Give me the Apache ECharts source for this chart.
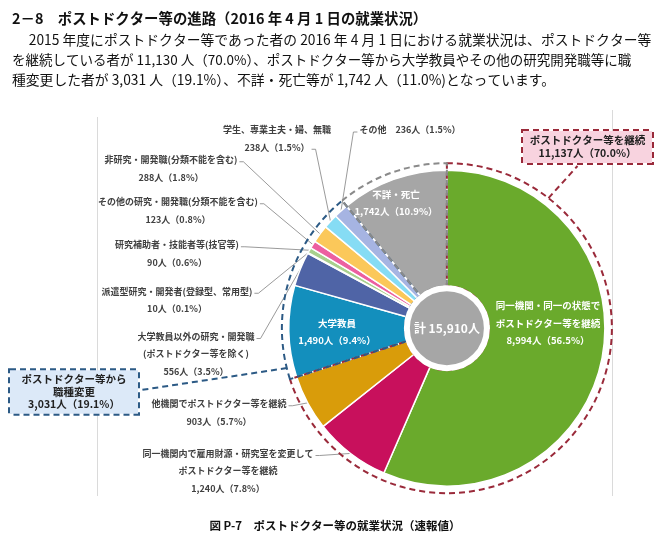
<!DOCTYPE html>
<html><head><meta charset="utf-8">
<script src="https://cdn.jsdelivr.net/npm/echarts@6/dist/echarts.min.js"></script>
<style>html,body{margin:0;padding:0;background:#fff}#c{width:670px;height:546px}</style>
</head><body><div id="c"></div>
<script>
// ---- data ----
const categories = [
  '同一機関・同一の状態で\nポストドクター等を継続',
  '同一機関内で雇用財源・研究室を変更して\nポストドクター等を継続',
  '他機関でポストドクター等を継続',
  '大学教員',
  '大学教員以外の研究・開発職\n(ポストドクター等を除く)',
  '派遣型研究・開発者(登録型、常用型)',
  '研究補助者・技能者等(技官等)',
  'その他の研究・開発職(分類不能を含む)',
  '非研究・開発職(分類不能を含む)',
  '学生、専業主夫・婦、無職',
  'その他',
  '不詳・死亡'
];
const values = [8994, 1240, 903, 1490, 556, 10, 90, 123, 288, 238, 236, 1742];
const groupOf = [0, 0, 0, 1, 1, 1, 1, 1, 1, 1, 1, 2];
const groupNames = ['ポストドクター等を継続', 'ポストドクター等から\n職種変更', '不詳・死亡'];
const titleText = '2－8　ポストドクター等の進路（2016 年 4 月 1 日の就業状況）';
const bodyLines = [
  '　2015 年度にポストドクター等であった者の 2016 年 4 月 1 日における就業状況は、ポストドクター等',
  'を継続している者が 11,130 人（70.0%）、ポストドクター等から大学教員やその他の研究開発職等に職',
  '種変更した者が 3,031 人（19.1%）、不詳・死亡等が 1,742 人（11.0%)となっています。'
];
const captionText = '図 P-7　ポストドクター等の就業状況（速報値）';

// ---- styles / layout ----
const colors = ['#6aaa2c', '#c8105c', '#d99c0a', '#138fbd', '#4f64a6', '#6f8f5a', '#a8d08d',
  '#ec5fa0', '#fbc85a', '#86dcf4', '#a6b4e2', '#a6a6a6'];
const groupBorder = ['#9a2a3a', '#2c5a85', '#8a8a8a'];
const FONT = '"Noto Sans CJK JP", "Noto Sans", sans-serif';
const LFS = 9, LH = 17.5;
const CENTER = ['66.7%', '60.1%'];
const R_IN = 42, R_OUT = 158, R_RING = 165;
const labelCfg = [
  {x: 548, y: 323, inside: true},
  {x: 228, y: 471, line: 0, side: 'r'},
  {x: 219, y: 412.5, line: 0, side: 'r'},
  {x: 337, y: 332, inside: true},
  {x: 196, y: 354, line: 0, side: 'r'},
  {x: 177, y: 300, line: 0, side: 'r'},
  {x: 177, y: 253.5, line: 0, side: 'r'},
  {x: 178, y: 210.5, line: 0, side: 'r'},
  {x: 171, y: 168.5, line: 0, side: 'r'},
  {x: 277, y: 138.5, line: 1, side: 'r'},
  {x: 410, y: 130, line: 0, side: 'l', inline: true},
  {x: 396, y: 203, inside: true}
];
const calloutCfg = [
  {x: 587.5, y: 147, w: 117, lh: 13, angle: 52, fill: '#f8d3df', attach: 'bottom'},
  {x: 74, y: 392, w: 116, lh: 12.5, angle: 194, fill: '#dce9f8', attach: 'right'},
  null
];

// ---- helpers ----
const total = values.reduce((a, b) => a + b, 0);
const groupValues = groupNames.map((_, g) => values.reduce((s, v, i) => s + (groupOf[i] === g ? v : 0), 0));
const fmt = v => v.toLocaleString('en-US');
const pct = v => (v / total * 100).toFixed(1);
const ctx = document.createElement('canvas').getContext('2d');
ctx.font = 'bold ' + LFS + 'px ' + FONT;
const labelText = i => categories[i] + (labelCfg[i].inline ? '　' : '\n') + fmt(values[i]) + '人（' + pct(values[i]) + '%）';

const chart = echarts.init(document.getElementById('c'), null, {renderer: 'canvas'});
const W = chart.getWidth(), H = chart.getHeight();
const cx = parseFloat(CENTER[0]) / 100 * W, cy = parseFloat(CENTER[1]) / 100 * H;

const mainData = values.map((v, i) => {
  const c = labelCfg[i];
  const d = {value: v, name: categories[i], itemStyle: {color: colors[i]}};
  if (c.inside) {
    d.label = {position: 'inside', color: '#fff', fontSize: 9.5};
    d.labelLine = {show: false};
  }
  return d;
});

const ringData = groupValues.map((v, g) => {
  const c = calloutCfg[g];
  const d = {value: v, name: groupNames[g], itemStyle: {borderColor: groupBorder[g]}};
  if (c) {
    d.label = {show: true, backgroundColor: c.fill, borderColor: groupBorder[g], width: c.w, lineHeight: c.lh};
    d.labelLine = {show: true, lineStyle: {color: groupBorder[g]}};
  } else {
    d.label = {show: false};
    d.labelLine = {show: false};
  }
  return d;
});

const option = {
  animation: false,
  backgroundColor: '#fff',
  textStyle: {fontFamily: FONT},
  title: [
    {text: titleText, left: 12, top: 11, padding: 0, textStyle: {fontSize: 14.4, fontWeight: 'bold', color: '#111', fontFamily: FONT}},
    ...bodyLines.map((t, k) => ({text: t, left: k === 0 ? 15 : 12, top: 33 + k * 20, padding: 0,
      textStyle: {fontSize: k === 1 ? 13.5 : 13.8, fontWeight: 'normal', color: '#111', fontFamily: FONT}})),
    {text: captionText, left: 'center', top: 520, padding: 0, textStyle: {fontSize: 11.5, fontWeight: 'bold', color: '#111', fontFamily: FONT}}
  ],
  graphic: [
    {type: 'line', shape: {x1: 97.5, y1: 117, x2: 97.5, y2: 496}, style: {stroke: '#dadada', lineWidth: 1}, silent: true},
    {type: 'line', shape: {x1: 612.5, y1: 110, x2: 612.5, y2: 496}, style: {stroke: '#dadada', lineWidth: 1}, silent: true}
  ],
  series: [
    {
      type: 'pie', z: 2, center: CENTER, radius: [R_IN, R_OUT], startAngle: 90, clockwise: true,
      avoidLabelOverlap: false, silent: true,
      itemStyle: {borderColor: '#fff', borderWidth: 1.5},
      label: {show: true, formatter: p => labelText(p.dataIndex), fontSize: LFS, fontWeight: 'bold',
        color: '#404040', lineHeight: LH, fontFamily: FONT, align: 'center'},
      labelLine: {show: true, length: 5, length2: 5, lineStyle: {color: '#808080', width: 0.8}},
      labelLayout: function (params) {
        const i = params.dataIndex, c = labelCfg[i];
        const res = {x: c.x, y: c.y, align: 'center', verticalAlign: 'middle'};
        if (!c.inside && params.labelLinePoints) {
          const lines = labelText(i).split('\n');
          const w = ctx.measureText(lines[c.line]).width;
          const top = c.y - lines.length * LH / 2;
          const ay = top + (c.line + 0.5) * LH + 2;
          const ax = c.side === 'r' ? c.x + w / 2 + 2 : c.x - w / 2 - 2;
          const ex = c.side === 'r' ? ax + 4 : ax - 4;
          res.labelLinePoints = [params.labelLinePoints[0], [ex, ay], [ax, ay]];
        }
        return res;
      },
      data: mainData
    },
    {
      type: 'pie', z: 3, center: CENTER, radius: [R_IN, R_RING], startAngle: 90, clockwise: true,
      avoidLabelOverlap: false, silent: true,
      itemStyle: {color: 'rgba(0,0,0,0)', borderWidth: 2, borderType: [6, 4]},
      label: {formatter: p => groupNames[p.dataIndex] + '\n' + fmt(p.value) + '人（' + pct(p.value) + '%）',
        fontSize: 10.5, fontWeight: 'bold', color: '#222', fontFamily: FONT, align: 'center',
        borderWidth: 2, borderType: [6, 4], padding: [3, 6]},
      labelLine: {lineStyle: {width: 2, type: [6, 4]}},
      labelLayout: function (params) {
        const c = calloutCfg[params.dataIndex];
        if (!c) return {};
        const a = c.angle * Math.PI / 180;
        const p0 = [cx + R_RING * Math.cos(a), cy - R_RING * Math.sin(a)];
        const nl = (groupNames[params.dataIndex].split('\n').length + 1);
        const bh = nl * c.lh + 6 + 2, bw = c.w + 12 + 2;
        let p2;
        if (c.attach === 'bottom') p2 = [c.x - 10, c.y + bh / 2 + 2];
        else p2 = [c.x + bw / 2 + 2, c.y - 2];
        const p1 = [(p0[0] + p2[0]) / 2, (p0[1] + p2[1]) / 2];
        return {x: c.x, y: c.y, align: 'center', verticalAlign: 'middle', labelLinePoints: [p0, p1, p2]};
      },
      data: ringData
    },
    {
      type: 'pie', z: 4, center: CENTER, radius: [0, 40], silent: true,
      itemStyle: {color: '#a6a6a6', borderColor: '#fff', borderWidth: 6},
      label: {show: true, position: 'center', formatter: '計 ' + fmt(total) + '人', color: '#fff',
        fontSize: 12, fontWeight: 'bold', fontFamily: FONT},
      labelLine: {show: false},
      data: [{value: total, name: '計'}]
    }
  ]
};
chart.setOption(option);
</script></body></html>
